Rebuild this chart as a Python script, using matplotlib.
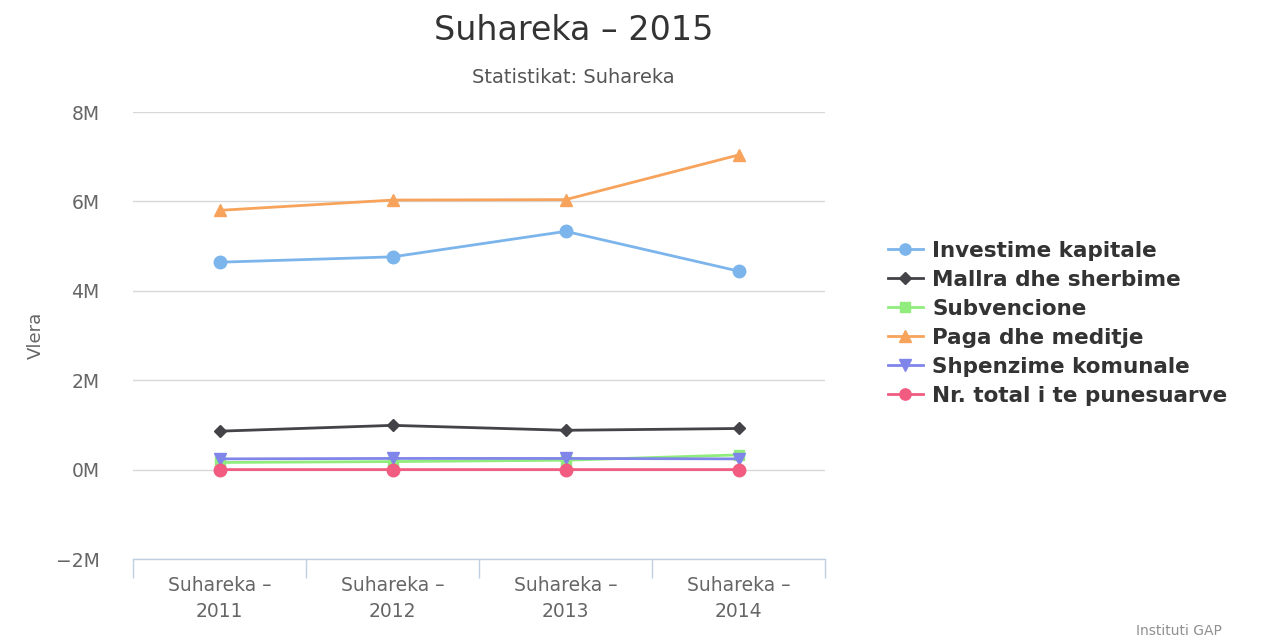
import matplotlib
matplotlib.use("Agg")
import matplotlib.pyplot as plt
from matplotlib.ticker import FuncFormatter, FixedLocator

plt.rcParams['font.family'] = ['DejaVu Sans']

categories = ["Suhareka –\n2011", "Suhareka –\n2012", "Suhareka –\n2013", "Suhareka –\n2014"]
investime = [4.64e6, 4.76e6, 5.33e6, 4.44e6]
mallra = [0.86e6, 0.99e6, 0.88e6, 0.92e6]
subvencione = [0.16e6, 0.18e6, 0.21e6, 0.33e6]
paga = [5.80e6, 6.03e6, 6.04e6, 7.04e6]
shpenzime = [0.24e6, 0.25e6, 0.25e6, 0.24e6]
punesuar = [620, 630, 640, 650]

series = [
    ("Investime kapitale", investime, "#7cb5ec", "o", 9),
    ("Mallra dhe sherbime", mallra, "#434348", "D", 6.5),
    ("Subvencione", subvencione, "#90ed7d", "s", 7.5),
    ("Paga dhe meditje", paga, "#f7a35c", "^", 9),
    ("Shpenzime komunale", shpenzime, "#8085e9", "v", 9),
    ("Nr. total i te punesuarve", punesuar, "#f15c80", "o", 9),
]

fig = plt.figure(figsize=(12.61, 6.43), dpi=100)
ax = fig.add_axes([0.1055, 0.1306, 0.549, 0.6952])

x = list(range(len(categories)))
for name, vals, col, mk, ms in series:
    ax.plot(x, vals, color=col, marker=mk, markersize=ms, linewidth=2, label=name,
            markeredgecolor=col, zorder=3)

ax.set_xlim(-0.5, len(categories) - 0.5)
ax.set_ylim(-2e6, 8e6)
ax.yaxis.set_major_locator(FixedLocator([-2e6, 0, 2e6, 4e6, 6e6, 8e6]))
ax.yaxis.set_major_formatter(FuncFormatter(lambda v, p: f"{int(round(v/1e6))}M".replace("-", "−")))
ax.grid(axis='y', color='#d8d8d8', linewidth=1, zorder=0)
ax.set_axisbelow(True)
for s in ['top', 'right', 'left']:
    ax.spines[s].set_visible(False)
ax.spines['bottom'].set_color('#c0d0e0')
ax.spines['bottom'].set_linewidth(1)

ax.set_xticks(x)
ax.set_xticklabels(categories, color='#666666', fontsize=13.5, linespacing=1.5)
ax.tick_params(axis='x', length=0, pad=12)
ax.set_xticks([i - 0.5 for i in range(len(categories) + 1)], minor=True)
ax.tick_params(axis='x', which='minor', length=14, color='#c0d0e0', width=1)
ax.tick_params(axis='y', length=0, labelsize=13.5, labelcolor='#666666', pad=24)

ax.set_ylabel("Vlera", color='#666666', fontsize=13, labelpad=8)

fig.text(0.455, 0.953, "Suhareka – 2015", ha='center', va='center', fontsize=24, color='#333333')
fig.text(0.455, 0.880, "Statistikat: Suhareka", ha='center', va='center', fontsize=14, color='#555555')
fig.text(0.969, 0.008, "Instituti GAP", ha='right', va='bottom', fontsize=10, color='#909090')

leg = fig.legend(loc='center left', bbox_to_anchor=(0.689, 0.497), frameon=False,
                 prop={'weight': 'bold', 'size': 15.5}, handlelength=1.6, handletextpad=0.45,
                 labelspacing=0.42, markerscale=0.9)
for t in leg.get_texts():
    t.set_color('#333333')

fig.savefig("out.png", dpi=100)
